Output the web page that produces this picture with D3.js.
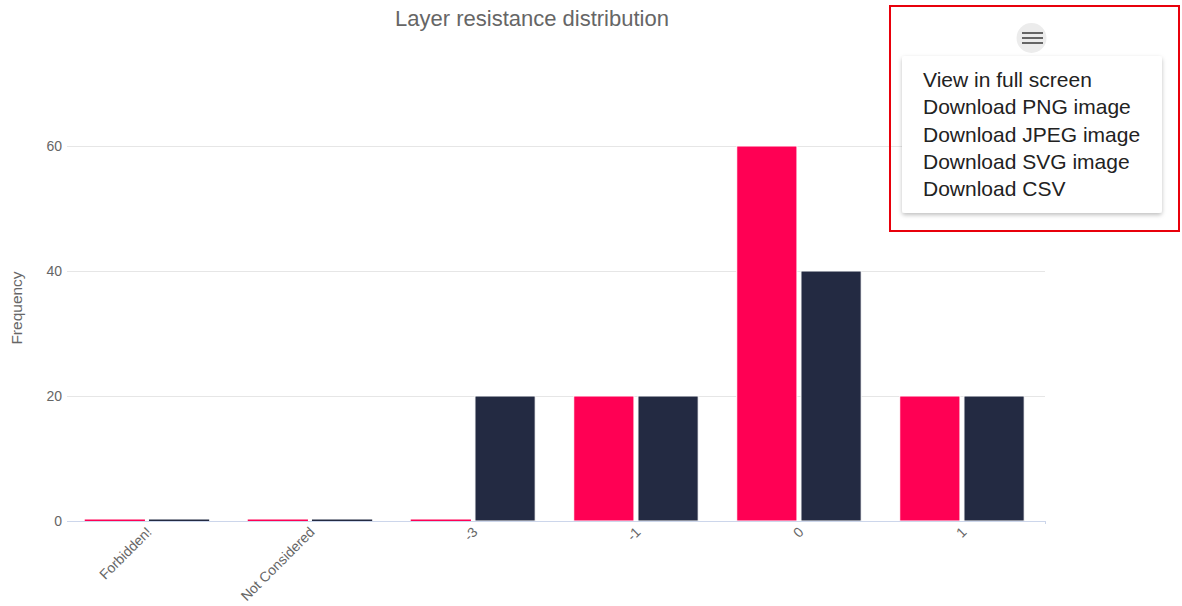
<!DOCTYPE html>
<html>
<head>
<meta charset="utf-8">
<script src="https://cdn.jsdelivr.net/npm/d3@7"></script>
<style>
  html, body { margin: 0; padding: 0; background: #fff; }
  svg { display: block; font-family: "Liberation Sans", Arial, Helvetica, sans-serif; }
</style>
</head>
<body>
<svg id="chart" width="1182" height="606"></svg>
<script>
const categories = ["Forbidden!", "Not Considered", "-3", "-1", "0", "1"];
const seriesNames = ["Series A", "Series B"];
const seriesA = [0, 0, 0, 20, 60, 20];
const seriesB = [0, 0, 20, 20, 40, 20];
const yTicks = [0, 20, 40, 60];
const colors = ["#ff0054", "#232a42"];
const menuItems = ["View in full screen", "Download PNG image", "Download JPEG image", "Download SVG image", "Download CSV"];
const titleText = "Layer resistance distribution";
const yTitle = "Frequency";

const svg = d3.select("#chart");
const plotLeft = 67, plotRight = 1045, plotTop = 146, plotBottom = 521;

const x = d3.scaleBand().domain(categories).range([plotLeft, plotRight]).paddingInner(0).paddingOuter(0);
const xi = d3.scaleBand().domain([0, 1]).range([0, x.bandwidth()]).paddingInner(0.0625).paddingOuter(0.3).align(0.46);
const y = d3.scaleLinear().domain([0, 60]).range([plotBottom, plotTop]);

// title
svg.append("text").attr("x", 532).attr("y", 26).attr("text-anchor", "middle")
  .attr("font-size", 22).attr("fill", "#666").text(titleText);

// grid lines
svg.append("g").selectAll("line").data(yTicks.filter(d => d !== 0)).join("line")
  .attr("x1", plotLeft).attr("x2", plotRight)
  .attr("y1", d => Math.round(y(d)) + 0.5).attr("y2", d => Math.round(y(d)) + 0.5)
  .attr("stroke", "#e6e6e6").attr("stroke-width", 1);

// y axis labels
const yAxis = d3.axisLeft(y).tickValues(yTicks).tickSize(0).tickPadding(0);
const yg = svg.append("g").attr("transform", `translate(${plotLeft - 5},0)`).call(yAxis);
yg.select(".domain").remove();
yg.selectAll("text").attr("font-size", 14).attr("fill", "#666")
  .attr("font-family", "'Liberation Sans', Arial, sans-serif");

// y title
svg.append("text").attr("transform", "translate(22,308) rotate(-90)")
  .attr("text-anchor", "middle").attr("font-size", 15.5).attr("fill", "#666").text(yTitle);

// bars
const data = [seriesA, seriesB];
data.forEach((vals, si) => {
  svg.append("g").selectAll("rect").data(vals).join("rect")
    .attr("x", (d, i) => x(categories[i]) + xi(si))
    .attr("width", xi.bandwidth())
    .attr("y", d => d === 0 ? plotBottom - 1.5 : y(d))
    .attr("height", d => d === 0 ? 2 : plotBottom - y(d))
    .attr("fill", colors[si])
    .attr("stroke", d => d === 0 ? "none" : "#fff").attr("stroke-width", 1);
});

// x axis line
svg.append("line").attr("x1", plotLeft).attr("x2", plotRight + 1)
  .attr("y1", plotBottom + 0.5).attr("y2", plotBottom + 0.5)
  .attr("stroke", "#ccd6eb").attr("stroke-width", 1);
svg.append("line").attr("x1", plotRight + 0.5).attr("x2", plotRight + 0.5)
  .attr("y1", plotBottom).attr("y2", plotBottom + 3).attr("stroke", "#ccd6eb");

// x axis labels
const xAxis = d3.axisBottom(x).tickSize(0).tickPadding(0);
const xg = svg.append("g").attr("transform", `translate(0,${plotBottom})`).call(xAxis);
xg.select(".domain").remove();
xg.selectAll(".tick text")
  .attr("font-size", 14).attr("fill", "#666")
  .attr("font-family", "'Liberation Sans', Arial, sans-serif")
  .attr("text-anchor", "end").attr("dy", null).attr("y", 0)
  .attr("transform", "translate(4,12) rotate(-45)");

// export menu
const defs = svg.append("defs");
const f = defs.append("filter").attr("id", "shadow").attr("x", "-10%").attr("y", "-10%").attr("width", "120%").attr("height", "130%");
f.append("feDropShadow").attr("dx", 0).attr("dy", 2).attr("stdDeviation", 2).attr("flood-color", "#000").attr("flood-opacity", 0.25);

svg.append("circle").attr("cx", 1031.5).attr("cy", 38).attr("r", 15).attr("fill", "#ececec");
[33, 38, 43].forEach(yy => {
  svg.append("line").attr("x1", 1022).attr("x2", 1043).attr("y1", yy).attr("y2", yy)
    .attr("stroke", "#666").attr("stroke-width", 2);
});
svg.append("rect").attr("x", 902).attr("y", 56).attr("width", 260).attr("height", 157).attr("rx", 3)
  .attr("fill", "#fff").attr("filter", "url(#shadow)");
svg.append("g").selectAll("text").data(menuItems).join("text")
  .attr("x", 923).attr("y", (d, i) => 87 + i * 27.3)
  .attr("font-size", 21).attr("fill", "#222").text(d => d);

svg.append("rect").attr("x", 890).attr("y", 6).attr("width", 289).attr("height", 225)
  .attr("fill", "none").attr("stroke", "#e8000b").attr("stroke-width", 2);
</script>
</body>
</html>
